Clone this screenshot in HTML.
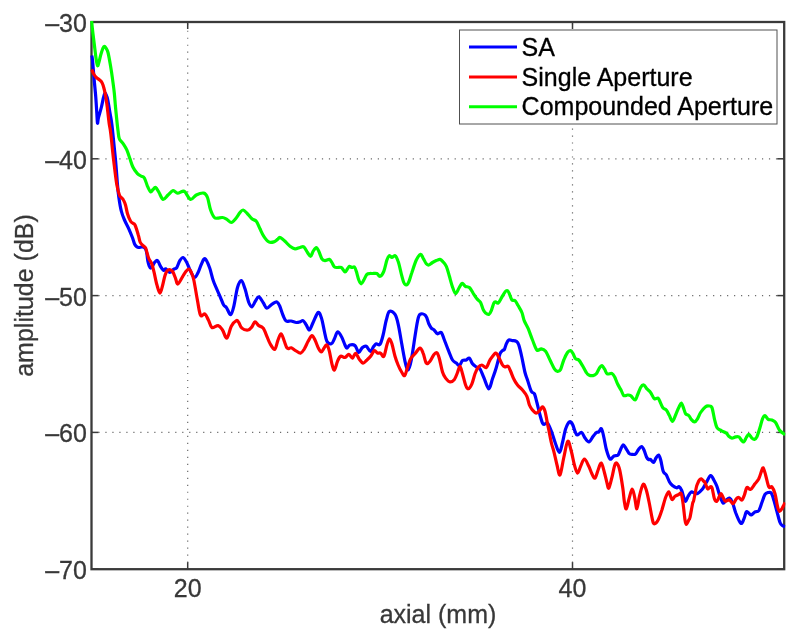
<!DOCTYPE html>
<html><head><meta charset="utf-8"><title>amplitude vs axial</title>
<style>
html,body{margin:0;padding:0;background:#fff;}
svg{display:block;}
text{font-family:"Liberation Sans",Arial,Helvetica,sans-serif;}
.lb{font-size:25px;fill:#383838;stroke:#383838;stroke-width:0.3px;}
.lg{font-size:25px;fill:#000;stroke:#000;stroke-width:0.3px;}
.g{stroke:#6b6b6b;stroke-width:1.2;stroke-dasharray:1.2 5.785;}
.t{stroke:#3a3a3a;stroke-width:1.5;}
</style></head><body>
<svg width="800" height="642" viewBox="0 0 800 642">
<defs><clipPath id="c"><rect x="90.2" y="20.7" width="695.1" height="549.8"/></clipPath></defs>
<rect x="0" y="0" width="800" height="642" fill="#fff"/>
<line x1="91.4" y1="158.8" x2="784.2" y2="158.8" class="g"/>
<line x1="91.4" y1="295.6" x2="784.2" y2="295.6" class="g"/>
<line x1="91.4" y1="432.4" x2="784.2" y2="432.4" class="g"/>
<line x1="187.7" y1="569.7" x2="187.7" y2="22.0" class="g"/>
<line x1="572.5" y1="569.7" x2="572.5" y2="22.0" class="g"/>
<rect x="91.5" y="22.0" width="692.7" height="547.2" fill="none" stroke="#3a3a3a" stroke-width="2.3"/>
<line x1="91.5" y1="22.0" x2="98.5" y2="22.0" class="t"/>
<line x1="784.2" y1="22.0" x2="777.2" y2="22.0" class="t"/>
<text x="86.9" y="32.0" text-anchor="end" class="lb">–30</text>
<line x1="91.5" y1="158.8" x2="98.5" y2="158.8" class="t"/>
<line x1="784.2" y1="158.8" x2="777.2" y2="158.8" class="t"/>
<text x="86.9" y="168.8" text-anchor="end" class="lb">–40</text>
<line x1="91.5" y1="295.6" x2="98.5" y2="295.6" class="t"/>
<line x1="784.2" y1="295.6" x2="777.2" y2="295.6" class="t"/>
<text x="86.9" y="305.6" text-anchor="end" class="lb">–50</text>
<line x1="91.5" y1="432.4" x2="98.5" y2="432.4" class="t"/>
<line x1="784.2" y1="432.4" x2="777.2" y2="432.4" class="t"/>
<text x="86.9" y="442.4" text-anchor="end" class="lb">–60</text>
<line x1="91.5" y1="569.2" x2="98.5" y2="569.2" class="t"/>
<line x1="784.2" y1="569.2" x2="777.2" y2="569.2" class="t"/>
<text x="86.9" y="579.2" text-anchor="end" class="lb">–70</text>
<line x1="187.7" y1="569.2" x2="187.7" y2="562.2" class="t"/>
<line x1="187.7" y1="22.0" x2="187.7" y2="29.0" class="t"/>
<text x="187.7" y="597" text-anchor="middle" class="lb">20</text>
<line x1="572.5" y1="569.2" x2="572.5" y2="562.2" class="t"/>
<line x1="572.5" y1="22.0" x2="572.5" y2="29.0" class="t"/>
<text x="572.5" y="597" text-anchor="middle" class="lb">40</text>
<text x="438" y="622.8" text-anchor="middle" class="lb">axial (mm)</text>
<text transform="translate(32.7 295.5) rotate(-90)" text-anchor="middle" class="lb">amplitude (dB)</text>
<g clip-path="url(#c)" fill="none" stroke-width="3.2" stroke-linejoin="round" stroke-linecap="butt">
<path d="M91.7 55.5C91.8 56.2 92.1 56.2 92.5 60.0C92.9 63.8 93.5 72.2 94.0 78.0C94.5 83.8 95.1 89.2 95.6 95.0C96.1 100.8 96.5 108.3 96.8 113.0C97.1 117.7 97.2 122.3 97.5 123.1C97.8 123.9 97.8 120.6 98.4 118.0C99.0 115.4 100.5 110.9 101.3 107.5C102.1 104.1 102.9 99.9 103.5 97.5C104.1 95.1 104.5 93.3 105.0 93.1C105.5 92.8 106.1 94.8 106.6 96.0C107.1 97.2 107.2 97.2 107.8 100.0C108.4 102.8 109.4 109.5 110.0 113.0C110.6 116.5 111.0 118.2 111.4 121.0C111.8 123.8 112.2 126.8 112.5 130.0C112.8 133.2 113.0 134.8 113.5 140.0C114.0 145.2 114.9 153.5 115.6 161.0C116.3 168.5 117.0 179.0 117.5 185.0C118.0 191.0 118.2 192.7 118.8 197.0C119.4 201.3 120.3 207.2 121.3 211.0C122.2 214.8 123.2 217.0 124.5 220.0C125.8 223.0 127.5 225.9 128.8 228.8C130.1 231.7 131.3 234.7 132.3 237.3C133.3 239.9 134.0 242.8 134.7 244.3C135.4 245.8 135.8 246.0 136.5 246.5C137.2 247.0 137.7 247.4 138.6 247.5C139.5 247.6 140.8 247.0 141.7 247.0C142.6 247.0 143.3 246.9 144.0 247.3C144.7 247.7 145.3 248.3 145.8 249.5C146.3 250.7 146.7 252.5 147.0 254.5C147.3 256.5 147.5 259.6 147.9 261.5C148.3 263.4 148.8 264.9 149.2 266.0C149.6 267.1 150.0 268.1 150.6 268.1C151.2 268.1 151.8 266.9 152.5 266.0C153.2 265.1 153.8 263.4 154.5 262.5C155.2 261.6 156.2 260.3 156.9 260.3C157.6 260.3 158.1 261.5 158.7 262.5C159.3 263.5 159.6 264.9 160.4 266.2C161.2 267.5 162.6 269.9 163.5 270.4C164.4 270.8 164.8 268.6 165.8 268.9C166.8 269.2 168.4 272.3 169.7 272.4C171.0 272.5 172.4 270.1 173.6 269.3C174.8 268.5 175.7 269.1 176.7 267.7C177.7 266.3 178.7 262.4 179.8 260.7C180.9 259.0 182.0 257.3 183.1 257.5C184.2 257.7 185.3 259.9 186.5 262.0C187.7 264.1 188.7 267.4 190.0 270.0C191.3 272.6 193.1 277.1 194.4 277.5C195.8 277.9 196.9 274.8 198.1 272.5C199.3 270.2 200.3 266.3 201.5 264.0C202.7 261.7 203.6 258.1 205.0 258.8C206.4 259.5 208.3 264.2 209.7 268.0C211.1 271.8 211.8 276.6 213.5 281.3C215.2 286.0 218.3 292.4 220.0 296.3C221.7 300.2 222.4 302.8 223.5 304.7C224.6 306.6 225.4 306.1 226.6 307.8C227.8 309.5 229.4 314.9 230.6 314.7C231.8 314.4 232.7 310.8 233.8 306.3C235.0 301.8 236.2 291.8 237.5 287.5C238.8 283.2 240.1 280.4 241.3 280.6C242.6 280.8 243.8 285.2 245.0 288.8C246.2 292.4 247.7 299.5 248.8 302.5C250.0 305.5 250.8 307.1 251.9 306.9C253.0 306.6 254.3 302.7 255.5 301.0C256.6 299.3 257.5 296.6 258.8 296.9C260.1 297.1 261.8 300.6 263.1 302.5C264.5 304.4 265.3 307.9 266.9 308.1C268.5 308.3 270.8 304.8 272.5 303.8C274.2 302.8 275.7 301.5 276.9 301.9C278.1 302.3 278.7 303.7 279.7 306.0C280.7 308.3 282.0 313.0 283.1 315.5C284.2 318.0 284.9 320.1 286.2 321.0C287.5 321.9 289.3 320.8 291.0 321.0C292.7 321.2 294.8 322.4 296.3 322.5C297.8 322.6 298.9 322.2 300.0 321.9C301.1 321.6 302.1 320.1 303.1 320.6C304.2 321.1 305.2 323.4 306.3 325.0C307.4 326.6 308.3 330.4 309.4 330.0C310.5 329.6 311.7 325.4 313.1 322.5C314.6 319.6 316.7 313.3 318.1 312.5C319.5 311.7 320.2 314.4 321.3 317.5C322.4 320.6 323.5 327.3 324.4 331.3C325.3 335.3 325.8 339.2 326.9 341.3C328.0 343.4 330.1 344.2 331.3 343.8C332.6 343.4 333.4 340.8 334.4 338.8C335.4 336.8 336.4 332.3 337.5 331.9C338.6 331.5 340.1 334.1 341.3 336.3C342.6 338.5 344.1 343.0 345.0 345.0C345.9 347.0 346.1 348.1 346.9 348.1C347.7 348.1 348.6 345.4 350.0 345.0C351.4 344.6 353.8 344.7 355.0 345.6C356.2 346.5 356.8 349.5 357.5 350.6C358.2 351.7 358.3 352.7 359.1 352.2C359.9 351.7 361.3 348.5 362.5 347.5C363.7 346.5 365.0 345.7 366.3 346.3C367.6 346.9 369.1 351.3 370.4 351.3C371.6 351.3 372.8 347.6 373.8 346.3C374.8 345.1 375.3 344.1 376.3 343.8C377.3 343.5 378.9 345.9 380.0 344.4C381.1 342.9 382.1 339.1 383.1 335.0C384.2 330.9 385.2 323.9 386.3 320.0C387.4 316.1 387.9 312.2 389.4 311.3C390.8 310.4 393.6 312.3 395.0 314.4C396.4 316.5 397.1 319.3 398.1 323.8C399.2 328.3 400.2 335.1 401.3 341.3C402.4 347.6 403.9 356.5 405.0 361.3C406.1 366.1 407.1 370.2 408.1 370.0C409.2 369.8 410.2 365.6 411.3 360.0C412.4 354.4 414.0 342.8 415.0 336.3C416.0 329.9 416.7 325.0 417.5 321.3C418.3 317.6 418.6 315.3 420.0 314.4C421.4 313.4 424.1 314.0 425.6 315.6C427.1 317.2 427.9 321.7 428.8 323.8C429.8 325.9 430.4 327.1 431.3 328.1C432.2 329.1 433.1 329.1 434.1 330.0C435.1 330.9 436.3 333.4 437.5 333.8C438.7 334.2 440.2 331.5 441.3 332.5C442.4 333.5 443.1 336.9 444.4 340.0C445.6 343.1 447.4 348.0 448.8 351.3C450.2 354.6 451.2 358.0 452.5 360.0C453.8 362.0 455.2 362.2 456.3 363.1C457.4 364.0 458.4 366.0 459.4 365.6C460.4 365.2 461.4 361.5 462.5 360.6C463.6 359.7 465.2 360.4 466.3 360.0C467.4 359.6 468.4 357.5 469.4 358.1C470.4 358.7 471.4 362.3 472.5 363.8C473.6 365.3 475.1 366.1 476.3 366.9C477.6 367.7 478.8 367.0 480.0 368.8C481.2 370.6 482.3 374.2 483.8 377.5C485.3 380.8 487.4 388.6 488.8 388.8C490.2 389.0 491.2 382.4 492.5 378.8C493.8 375.2 495.1 371.7 496.3 367.5C497.6 363.3 499.0 356.6 500.0 353.8C501.0 351.0 501.8 351.3 502.5 350.6C503.2 349.9 503.8 350.5 504.4 349.4C505.0 348.3 505.6 345.4 506.3 343.8C507.0 342.2 507.8 340.5 508.8 340.0C509.8 339.5 511.2 340.4 512.5 340.6C513.8 340.8 515.2 340.6 516.3 341.3C517.3 342.0 517.9 342.3 518.8 345.0C519.7 347.7 520.9 352.9 521.9 357.5C522.9 362.1 524.1 368.8 525.0 372.5C525.9 376.2 526.5 376.9 527.5 380.0C528.5 383.1 530.1 389.0 531.3 391.3C532.4 393.6 533.5 391.9 534.4 393.8C535.3 395.7 536.0 399.0 536.9 402.5C537.8 406.0 539.1 411.6 540.0 415.0C540.9 418.4 541.8 421.5 542.5 423.1C543.2 424.7 543.6 424.4 544.4 424.4C545.2 424.4 546.4 422.0 547.5 423.1C548.6 424.2 550.0 427.7 551.3 431.0C552.6 434.3 553.9 439.4 555.3 443.0C556.6 446.6 558.2 452.6 559.4 452.5C560.6 452.4 561.5 446.4 562.5 442.5C563.5 438.6 564.5 432.4 565.6 429.0C566.8 425.6 568.2 422.7 569.4 421.9C570.5 421.1 571.6 422.8 572.5 424.4C573.4 426.0 574.2 429.5 575.0 431.3C575.8 433.1 576.1 434.8 577.2 435.0C578.3 435.2 580.3 432.0 581.6 432.5C582.9 433.0 583.8 436.4 585.0 438.0C586.2 439.6 587.7 442.1 589.0 441.9C590.3 441.6 591.8 438.1 593.0 436.5C594.2 434.9 595.5 433.3 596.5 432.5C597.5 431.7 598.0 432.5 598.8 431.9C599.6 431.3 600.6 427.8 601.5 428.8C602.4 429.8 603.2 434.5 604.0 438.0C604.8 441.5 605.5 446.5 606.5 450.0C607.5 453.5 608.8 458.0 610.0 459.0C611.2 460.0 612.7 456.6 614.0 456.0C615.3 455.4 616.8 456.1 617.8 455.3C618.8 454.5 619.1 452.7 620.0 451.0C620.9 449.3 622.0 445.4 623.0 445.0C624.0 444.6 625.0 447.1 626.0 448.5C627.0 449.9 628.0 452.3 629.0 453.3C630.0 454.3 631.2 454.3 632.3 454.4C633.4 454.5 634.5 454.8 635.5 454.0C636.5 453.2 637.5 450.8 638.5 449.5C639.5 448.2 640.6 446.4 641.5 446.5C642.4 446.6 643.2 448.2 644.0 450.0C644.8 451.8 645.8 455.4 646.5 457.0C647.2 458.6 647.8 459.1 648.5 459.5C649.2 459.9 649.6 459.0 650.5 459.5C651.4 460.0 652.7 462.8 653.6 462.5C654.5 462.2 655.2 459.2 656.0 458.0C656.8 456.8 657.8 454.7 658.6 455.0C659.4 455.3 659.9 457.2 660.7 460.0C661.5 462.8 662.3 469.0 663.3 471.5C664.2 474.0 665.4 473.2 666.4 475.0C667.4 476.8 668.5 480.2 669.5 482.0C670.5 483.8 671.3 484.5 672.5 485.5C673.7 486.5 675.4 487.6 676.5 487.8C677.6 488.0 678.3 486.2 679.2 486.7C680.1 487.1 680.9 488.7 681.7 490.5C682.5 492.3 683.1 495.7 683.8 497.5C684.4 499.3 684.9 501.5 685.6 501.3C686.3 501.1 687.2 497.9 688.1 496.3C689.0 494.7 690.2 492.4 691.3 491.9C692.3 491.4 693.4 492.8 694.4 493.1C695.4 493.4 696.1 494.2 697.5 493.5C698.9 492.8 701.0 490.8 702.5 489.0C704.0 487.2 704.9 484.7 706.3 482.5C707.6 480.3 709.4 476.0 710.6 475.6C711.9 475.2 712.8 478.2 713.8 480.0C714.8 481.8 715.9 483.6 716.9 486.3C717.9 489.0 719.0 493.5 720.0 496.3C721.0 499.1 722.1 502.5 723.1 503.1C724.1 503.7 725.2 500.8 726.3 500.0C727.3 499.2 728.4 497.7 729.4 498.1C730.4 498.5 731.5 500.1 732.5 502.5C733.5 504.9 734.5 509.4 735.6 512.5C736.8 515.6 738.4 519.5 739.4 521.3C740.4 523.1 741.1 523.7 741.9 523.1C742.7 522.5 743.7 519.4 744.4 517.5C745.1 515.6 745.6 512.6 746.3 511.9C747.0 511.2 748.0 512.6 748.8 513.1C749.6 513.6 750.3 515.2 751.3 515.0C752.3 514.8 753.8 512.6 755.0 511.9C756.2 511.2 757.6 512.2 758.8 510.6C759.9 509.0 760.9 505.2 761.9 502.5C762.9 499.8 764.0 496.1 765.0 494.4C766.0 492.7 767.1 492.7 768.1 492.5C769.1 492.3 770.3 491.9 771.3 493.1C772.2 494.4 772.9 497.0 773.8 500.0C774.7 503.0 775.9 507.6 776.9 511.3C777.9 515.0 779.1 520.1 780.0 522.5C780.9 524.9 781.9 525.0 782.5 525.6C783.1 526.2 783.3 526.1 783.8 526.3C784.2 526.5 785.0 526.5 785.2 526.6" stroke="#0000ff"/>
<path d="M91.7 69.5C92.1 70.3 93.2 73.2 94.0 74.5C94.8 75.8 95.5 76.7 96.3 77.5C97.1 78.3 98.2 78.8 99.0 79.5C99.8 80.2 100.6 80.7 101.3 81.6C102.0 82.5 102.5 83.6 103.0 85.0C103.5 86.4 103.9 88.0 104.4 90.0C104.9 92.0 105.3 94.1 105.8 97.0C106.3 99.9 106.8 103.2 107.3 107.5C107.8 111.8 108.6 119.2 109.1 123.0C109.6 126.8 109.9 127.2 110.3 130.0C110.7 132.8 111.0 135.2 111.5 140.0C112.0 144.8 112.6 151.7 113.5 159.0C114.4 166.3 115.7 178.0 116.7 184.0C117.7 190.0 118.6 192.8 119.4 195.0C120.2 197.2 120.7 196.7 121.3 197.5C121.9 198.3 122.6 198.4 123.3 199.7C124.0 200.9 124.8 202.7 125.5 205.0C126.2 207.3 126.7 211.1 127.5 213.8C128.3 216.5 129.7 219.7 130.6 221.3C131.5 222.9 132.3 222.7 133.0 223.3C133.7 223.9 134.1 223.1 135.0 225.0C135.9 226.9 137.5 232.2 138.3 235.0C139.2 237.8 139.4 240.3 140.1 242.0C140.8 243.7 141.6 244.1 142.5 245.1C143.4 246.1 144.8 246.3 145.6 247.9C146.4 249.5 146.9 252.6 147.5 254.5C148.1 256.4 148.4 257.6 149.1 259.1C149.8 260.7 151.0 261.6 151.8 263.8C152.6 266.0 153.2 268.9 154.1 272.4C154.9 275.9 155.9 281.4 156.9 284.8C157.9 288.2 159.0 293.1 160.0 293.1C161.0 293.1 161.9 287.9 162.7 285.0C163.5 282.1 164.2 277.9 165.0 275.5C165.8 273.1 166.6 271.6 167.4 270.6C168.2 269.6 169.2 269.5 170.1 269.7C171.0 269.9 171.9 270.1 172.8 271.6C173.7 273.1 174.8 276.5 175.6 278.6C176.4 280.7 176.7 284.3 177.8 284.0C179.0 283.7 181.2 278.9 182.5 276.9C183.8 274.9 184.4 273.3 185.5 272.0C186.6 270.7 187.8 269.1 188.8 269.2C189.8 269.3 190.5 270.7 191.3 272.5C192.1 274.3 192.8 275.3 193.8 280.0C194.8 284.7 196.4 294.7 197.5 300.6C198.6 306.5 199.3 313.1 200.6 315.3C201.8 317.5 203.7 313.2 205.0 314.0C206.3 314.8 207.2 317.8 208.4 320.0C209.6 322.2 210.3 326.6 211.9 327.5C213.5 328.4 216.3 325.2 218.1 325.6C219.9 326.0 221.0 327.9 222.5 330.0C224.0 332.1 225.4 338.7 226.9 338.1C228.4 337.5 229.7 329.2 231.3 326.3C232.9 323.4 235.1 321.2 236.3 320.6C237.6 320.0 237.9 321.2 238.8 322.5C239.7 323.8 240.4 326.9 241.9 328.1C243.4 329.4 246.4 330.2 248.1 330.0C249.8 329.8 250.8 328.2 251.9 326.9C253.1 325.5 253.8 322.1 255.0 321.9C256.1 321.7 257.4 324.6 258.8 325.6C260.2 326.6 261.8 326.3 263.1 328.1C264.5 329.9 265.8 333.7 266.9 336.3C268.0 338.9 268.7 341.3 270.0 343.5C271.3 345.7 273.4 349.9 274.7 349.4C276.0 348.9 276.8 343.2 277.8 340.6C278.9 338.0 279.9 333.8 281.0 333.8C282.1 333.8 283.1 338.2 284.1 340.6C285.1 343.0 286.0 347.0 287.2 348.2C288.4 349.4 289.9 347.4 291.3 347.8C292.7 348.2 294.1 349.7 295.6 350.6C297.2 351.5 299.1 353.4 300.6 353.1C302.1 352.8 303.1 350.8 304.4 348.8C305.6 346.8 306.9 343.5 308.1 341.3C309.4 339.1 310.8 335.8 311.9 335.6C313.0 335.4 314.0 338.0 315.0 340.0C316.0 342.0 317.1 345.5 318.1 347.5C319.2 349.5 320.2 351.9 321.3 351.9C322.4 351.9 323.5 348.6 324.4 347.5C325.3 346.4 326.1 344.4 326.9 345.0C327.7 345.6 328.6 348.2 329.4 351.3C330.2 354.4 331.1 360.7 331.9 363.8C332.7 366.9 333.5 370.4 334.4 370.0C335.3 369.6 336.5 363.6 337.5 361.3C338.5 359.0 339.4 356.9 340.6 356.3C341.9 355.7 343.6 357.8 345.0 357.5C346.4 357.2 347.6 354.3 348.8 354.4C350.1 354.5 351.4 358.3 352.5 358.1C353.6 357.9 354.5 353.1 355.6 353.3C356.8 353.5 358.1 357.8 359.4 359.4C360.6 361.0 361.9 363.0 363.1 363.1C364.4 363.2 365.6 361.1 366.9 360.0C368.1 358.9 369.4 357.9 370.6 356.3C371.9 354.7 373.2 351.1 374.4 350.6C375.5 350.1 376.5 352.7 377.5 353.1C378.5 353.5 379.6 352.6 380.6 353.1C381.7 353.6 382.8 357.7 383.8 356.3C384.9 354.9 386.0 347.9 386.9 345.0C387.8 342.1 388.6 339.0 389.4 338.8C390.2 338.6 391.0 340.9 391.9 343.8C392.8 346.7 394.0 352.8 395.0 356.3C396.0 359.8 397.0 362.3 398.1 365.0C399.2 367.7 400.8 370.8 401.9 372.5C403.0 374.2 403.8 376.3 404.7 375.5C405.6 374.7 406.5 370.3 407.5 367.5C408.5 364.7 409.4 361.1 410.6 358.8C411.9 356.5 413.4 355.6 415.0 353.8C416.6 352.0 418.6 348.2 420.0 348.1C421.4 348.0 422.1 350.6 423.1 353.1C424.2 355.6 425.2 361.7 426.3 363.1C427.4 364.5 428.8 362.7 430.0 361.3C431.2 359.9 432.7 356.1 433.8 354.7C434.9 353.3 436.0 352.1 436.9 352.8C437.8 353.5 438.5 355.6 439.4 358.8C440.3 362.0 441.5 368.8 442.5 372.0C443.5 375.2 444.4 376.5 445.6 378.1C446.9 379.8 448.5 381.7 450.0 381.9C451.5 382.1 453.1 381.0 454.4 379.4C455.6 377.8 456.6 374.7 457.5 372.5C458.4 370.3 459.2 366.1 460.0 366.3C460.8 366.5 461.6 370.7 462.5 373.8C463.4 376.9 464.7 382.5 465.6 385.0C466.5 387.5 467.1 389.0 468.1 388.8C469.2 388.6 470.8 386.3 471.9 383.8C473.0 381.3 474.0 376.5 475.0 373.8C476.0 371.1 477.0 369.0 478.1 367.5C479.2 366.0 480.5 365.0 481.9 365.0C483.3 365.0 484.9 368.3 486.3 367.5C487.7 366.7 488.4 362.4 490.0 360.0C491.6 357.6 494.1 353.5 495.6 353.1C497.1 352.7 497.7 355.5 498.8 357.5C499.9 359.5 501.5 363.4 502.5 365.0C503.5 366.6 504.1 366.7 505.0 366.9C505.9 367.1 507.2 365.6 508.1 366.3C509.0 367.0 509.7 369.2 510.6 371.3C511.6 373.4 512.6 376.7 513.8 379.0C514.9 381.3 516.0 383.2 517.5 385.0C519.0 386.8 520.9 388.1 522.5 390.0C524.1 391.9 525.8 393.8 526.9 396.3C528.0 398.8 528.5 402.7 529.4 405.0C530.3 407.3 531.4 408.6 532.5 410.0C533.6 411.4 535.0 413.1 536.3 413.1C537.5 413.1 539.0 411.0 540.0 410.0C541.0 409.0 541.7 406.7 542.5 406.9C543.3 407.1 544.2 408.5 545.0 411.3C545.8 414.1 546.9 420.7 547.5 423.8C548.1 426.9 548.2 426.9 548.8 430.0C549.4 433.1 550.5 438.9 551.3 442.5C552.1 446.1 552.8 447.6 553.8 451.3C554.8 455.1 556.0 461.1 557.0 465.0C558.0 468.9 558.9 476.2 560.0 475.0C561.1 473.8 562.5 463.1 563.8 457.5C565.1 451.9 566.5 442.3 567.8 441.3C569.0 440.3 570.2 447.4 571.3 451.3C572.4 455.2 573.4 461.4 574.4 465.0C575.4 468.6 576.5 472.9 577.5 473.1C578.5 473.3 579.5 468.7 580.6 466.3C581.8 463.9 583.0 459.0 584.4 459.0C585.8 459.0 587.5 463.8 588.8 466.3C590.0 468.8 590.9 471.8 591.9 473.8C592.9 475.8 594.0 478.7 595.0 478.1C596.0 477.5 597.1 472.5 598.1 470.0C599.1 467.5 600.2 462.7 601.3 463.1C602.3 463.5 603.5 469.3 604.4 472.5C605.3 475.7 606.2 479.9 606.9 482.5C607.6 485.1 608.0 488.9 608.8 488.1C609.6 487.3 610.9 481.2 611.9 477.5C612.9 473.8 613.7 468.4 614.5 466.0C615.3 463.6 615.7 462.4 616.6 463.1C617.5 463.8 618.7 465.9 619.7 470.0C620.7 474.1 622.0 482.7 622.8 488.0C623.6 493.3 623.8 498.5 624.4 502.0C625.0 505.5 625.5 509.3 626.3 508.8C627.1 508.3 628.0 502.3 629.0 499.0C630.0 495.7 631.2 489.2 632.2 489.0C633.2 488.8 633.9 494.2 634.7 497.5C635.5 500.8 636.1 509.0 636.9 508.8C637.7 508.6 638.4 500.4 639.4 496.3C640.4 492.2 642.0 485.4 643.1 484.4C644.2 483.3 645.2 486.8 646.3 490.0C647.3 493.2 648.4 498.8 649.4 503.8C650.4 508.8 651.7 516.7 652.5 520.0C653.3 523.3 653.5 523.8 654.4 523.8C655.3 523.8 656.9 522.3 658.1 520.0C659.4 517.7 660.6 513.8 661.9 510.0C663.1 506.2 664.5 500.5 665.6 497.5C666.8 494.5 667.8 491.6 668.8 491.9C669.8 492.2 670.9 498.7 671.9 499.4C672.9 500.1 673.9 497.1 675.0 496.3C676.1 495.5 677.8 494.8 678.8 494.4C679.8 494.0 680.6 492.2 681.3 493.8C682.0 495.4 682.5 499.4 683.1 503.8C683.7 508.2 684.5 516.6 685.0 520.0C685.5 523.4 685.7 524.4 686.3 524.4C686.9 524.4 688.2 521.1 688.8 520.0C689.4 518.9 689.4 520.2 690.0 517.5C690.6 514.8 691.9 506.9 692.5 504.0C693.1 501.1 693.2 502.8 693.8 500.0C694.4 497.2 695.7 490.2 696.3 487.5C696.9 484.8 697.0 485.1 697.5 483.8C698.0 482.6 698.8 480.8 699.4 480.0C700.0 479.2 700.5 478.6 701.2 478.8C701.9 479.0 703.2 480.7 703.8 481.3C704.4 481.9 704.4 481.2 705.0 482.5C705.6 483.8 706.8 488.0 707.5 488.8C708.2 489.6 708.7 487.7 709.4 487.5C710.1 487.3 711.1 485.6 711.9 487.5C712.7 489.4 713.6 496.5 714.4 498.8C715.2 501.1 716.1 501.7 716.9 501.3C717.7 500.9 718.7 497.6 719.4 496.3C720.1 495.1 720.6 493.4 721.3 493.8C722.0 494.2 723.1 497.6 723.8 498.8C724.5 500.1 724.7 501.1 725.6 501.3C726.5 501.5 728.1 499.6 729.4 500.0C730.6 500.4 732.0 504.0 733.1 503.8C734.2 503.6 735.3 499.9 736.3 498.8C737.2 497.8 737.9 497.3 738.8 497.5C739.7 497.7 741.0 500.4 741.9 500.0C742.8 499.6 743.6 497.1 744.4 495.0C745.2 492.9 745.9 488.4 746.9 487.5C747.9 486.6 749.2 490.0 750.6 489.4C752.0 488.8 753.6 485.6 755.0 483.8C756.4 482.0 757.6 481.1 758.8 478.8C759.9 476.5 761.1 471.8 761.9 470.0C762.7 468.2 762.8 467.3 763.4 468.1C764.0 468.9 764.7 471.9 765.6 475.0C766.5 478.1 767.8 484.9 768.8 486.9C769.8 488.9 770.9 485.8 771.9 486.9C772.9 488.0 774.1 490.6 775.0 493.8C775.9 497.0 776.8 503.4 777.5 506.3C778.2 509.2 778.7 510.9 779.4 511.3C780.1 511.7 781.2 509.9 781.9 508.8C782.6 507.8 783.2 506.1 783.8 505.0C784.3 503.9 785.0 502.9 785.2 502.5" stroke="#ff0000"/>
<path d="M91.6 21.0C91.8 23.2 92.5 29.8 93.0 34.0C93.5 38.2 94.0 42.0 94.5 46.0C95.0 50.0 95.5 54.7 96.0 58.0C96.5 61.3 97.0 64.9 97.5 65.6C98.0 66.3 98.4 63.9 99.0 62.0C99.6 60.1 100.3 56.3 101.0 54.0C101.7 51.7 102.5 49.3 103.0 48.0C103.5 46.7 103.8 46.3 104.3 46.3C104.8 46.3 105.4 47.0 106.0 48.0C106.6 49.0 107.3 49.7 108.0 52.5C108.7 55.3 109.7 60.9 110.4 65.0C111.1 69.2 111.7 72.7 112.3 77.4C112.9 82.1 113.8 88.1 114.3 93.0C114.8 97.9 115.1 102.8 115.5 107.0C115.9 111.2 116.2 114.0 116.6 118.0C117.0 122.0 117.6 127.7 118.1 131.2C118.5 134.6 118.5 136.6 119.3 138.7C120.1 140.8 121.8 141.7 123.1 143.6C124.3 145.5 125.7 147.4 126.8 149.9C127.9 152.4 128.9 155.7 129.9 158.6C130.9 161.5 131.8 164.8 133.0 167.3C134.2 169.8 136.1 172.2 137.4 173.6C138.7 175.0 139.8 175.2 141.0 176.0C142.2 176.8 143.3 176.4 144.4 178.1C145.5 179.8 146.5 184.0 147.5 186.3C148.5 188.6 149.7 191.4 150.6 191.9C151.5 192.4 152.2 190.2 153.0 189.5C153.8 188.8 154.6 187.0 155.6 187.5C156.6 188.0 157.8 190.5 159.0 192.5C160.2 194.5 161.6 199.0 163.1 199.4C164.6 199.8 166.3 196.5 168.0 195.0C169.7 193.5 171.5 190.9 173.1 190.6C174.7 190.3 175.9 193.0 177.5 193.1C179.1 193.2 181.2 191.5 182.5 191.3C183.8 191.1 183.7 190.6 185.0 191.9C186.3 193.2 188.7 198.9 190.6 199.4C192.5 199.9 194.1 196.1 196.3 195.0C198.5 193.9 201.9 192.7 203.8 193.1C205.7 193.5 206.4 194.7 207.5 197.5C208.6 200.3 209.4 206.7 210.6 210.0C211.8 213.3 213.2 216.2 214.4 217.5C215.6 218.8 216.2 218.1 217.5 218.1C218.8 218.1 220.9 217.3 222.5 217.5C224.1 217.7 225.4 218.6 226.9 219.4C228.4 220.2 229.9 222.6 231.3 222.5C232.8 222.4 234.2 220.5 235.6 218.8C237.0 217.1 238.8 214.0 240.0 212.5C241.2 211.0 241.9 209.9 243.1 210.0C244.2 210.1 245.4 211.6 246.9 213.1C248.4 214.6 250.3 217.4 251.9 218.8C253.5 220.2 255.0 219.6 256.3 221.3C257.7 223.0 258.8 226.3 260.0 228.8C261.2 231.3 262.3 234.1 263.8 236.3C265.3 238.5 267.1 241.0 268.8 241.9C270.5 242.8 272.4 242.3 273.8 241.9C275.2 241.5 276.5 240.1 277.5 239.4C278.5 238.7 278.8 237.2 280.0 237.5C281.2 237.8 283.3 239.8 285.0 241.3C286.7 242.8 288.3 245.1 290.0 246.3C291.7 247.6 293.3 248.6 295.0 248.8C296.7 249.0 298.5 247.8 300.0 247.5C301.5 247.2 302.6 246.1 303.8 246.9C305.1 247.7 306.4 250.9 307.5 252.5C308.6 254.1 309.7 256.5 310.6 256.3C311.5 256.1 312.2 252.8 313.1 251.3C314.1 249.8 315.4 247.5 316.3 247.5C317.2 247.5 317.9 249.4 318.8 251.3C319.7 253.2 320.9 257.2 321.9 258.8C322.9 260.4 323.8 260.5 325.0 260.6C326.2 260.7 328.2 259.1 329.4 259.4C330.5 259.7 331.1 261.2 331.9 262.5C332.7 263.8 333.5 266.1 334.4 266.9C335.3 267.7 336.4 267.4 337.5 267.5C338.6 267.6 340.1 266.8 341.3 267.5C342.6 268.2 344.0 271.7 345.0 271.9C346.0 272.1 346.8 269.7 347.5 268.8C348.2 267.9 348.7 266.5 349.4 266.3C350.1 266.1 351.1 267.4 351.9 267.5C352.7 267.6 353.7 266.3 354.4 266.9C355.1 267.5 355.6 269.1 356.3 271.3C357.0 273.5 358.0 277.9 358.8 280.0C359.6 282.1 360.5 283.8 361.3 283.8C362.1 283.8 362.9 281.6 363.8 280.0C364.7 278.4 365.9 275.5 366.9 274.4C367.9 273.3 369.1 273.6 370.0 273.5C370.9 273.4 371.4 273.5 372.5 273.5C373.6 273.5 375.6 273.0 376.9 273.5C378.1 274.0 378.9 276.7 380.0 276.3C381.1 275.9 382.7 274.0 383.8 271.3C384.9 268.6 386.0 262.6 386.9 260.0C387.8 257.4 388.6 256.0 389.4 255.6C390.2 255.2 391.0 257.5 391.9 257.5C392.8 257.5 394.0 255.0 395.0 255.6C396.0 256.2 397.1 258.3 398.1 261.3C399.2 264.3 400.4 270.3 401.3 273.8C402.2 277.3 403.0 280.6 403.8 282.5C404.6 284.4 405.5 285.1 406.3 285.0C407.1 284.9 407.9 284.0 408.8 281.9C409.7 279.8 410.6 276.1 411.9 272.5C413.1 268.9 414.9 263.0 416.3 260.0C417.8 257.0 419.5 254.7 420.6 254.4C421.7 254.1 422.2 256.5 423.1 258.1C424.1 259.7 425.4 262.7 426.3 263.8C427.2 264.9 427.8 265.2 428.8 265.0C429.8 264.8 431.2 263.2 432.5 262.5C433.8 261.8 435.1 261.1 436.3 260.6C437.6 260.1 438.9 259.2 440.0 259.4C441.1 259.6 442.1 260.8 443.1 261.9C444.2 263.0 445.2 263.9 446.3 266.3C447.4 268.7 448.4 272.9 449.4 276.3C450.4 279.8 451.5 284.1 452.5 287.0C453.5 289.9 454.5 293.3 455.6 293.5C456.7 293.7 457.9 289.7 459.0 288.0C460.1 286.3 461.1 283.7 462.2 283.4C463.2 283.1 464.1 285.6 465.3 286.3C466.5 287.0 468.1 286.4 469.4 287.5C470.7 288.6 471.9 291.2 473.1 293.1C474.4 295.0 475.6 297.2 476.9 298.8C478.1 300.4 479.6 300.7 480.6 302.5C481.6 304.3 482.3 307.6 483.1 309.4C483.9 311.2 484.7 312.3 485.6 313.1C486.6 313.9 487.9 314.8 488.8 314.4C489.8 314.0 490.5 312.5 491.3 310.6C492.1 308.7 493.1 304.6 493.8 303.1C494.5 301.7 494.9 301.9 495.6 301.9C496.3 301.9 497.2 303.7 498.1 303.1C499.1 302.5 500.2 300.0 501.3 298.1C502.4 296.2 504.0 293.1 505.0 291.9C506.0 290.6 506.8 290.3 507.5 290.6C508.2 290.9 508.7 292.2 509.4 293.8C510.1 295.4 511.0 298.9 511.9 300.0C512.8 301.1 514.0 299.7 515.0 300.6C516.0 301.5 517.0 303.6 518.1 305.6C519.2 307.6 520.9 310.0 521.9 312.5C522.9 315.0 523.2 318.0 524.2 320.6C525.2 323.2 526.7 325.2 528.1 328.4C529.5 331.6 531.0 336.4 532.5 340.0C534.0 343.6 535.4 348.5 536.9 350.0C538.4 351.5 539.8 348.6 541.3 348.8C542.8 349.0 544.1 349.4 545.6 351.3C547.1 353.2 548.5 357.1 550.0 360.0C551.5 362.9 553.1 366.9 554.4 368.8C555.6 370.7 556.5 371.2 557.5 371.3C558.5 371.4 559.6 371.3 560.6 369.4C561.6 367.5 562.6 362.8 563.8 360.0C564.9 357.2 566.4 354.1 567.5 352.5C568.6 350.9 569.7 350.4 570.6 350.6C571.5 350.8 572.3 352.4 573.1 353.8C573.9 355.2 574.7 357.8 575.6 358.8C576.5 359.8 577.6 358.9 578.8 360.0C579.9 361.1 581.2 363.5 582.5 365.6C583.8 367.7 585.2 370.9 586.3 372.5C587.3 374.1 587.7 374.5 588.8 375.0C589.9 375.5 591.9 375.8 593.1 375.6C594.4 375.4 595.2 375.1 596.3 373.8C597.3 372.6 598.5 369.5 599.4 368.1C600.3 366.7 601.0 365.4 601.9 365.6C602.8 365.8 603.7 367.8 604.6 369.2C605.5 370.6 606.0 373.1 607.2 373.8C608.4 374.5 610.6 373.0 611.9 373.5C613.1 374.0 613.8 375.3 614.7 377.0C615.6 378.7 616.4 381.5 617.5 383.8C618.6 386.1 620.2 388.6 621.3 390.6C622.3 392.6 622.8 394.9 623.8 395.6C624.8 396.3 626.4 395.0 627.5 395.0C628.6 395.0 629.4 394.8 630.6 395.6C631.9 396.4 633.9 400.1 635.0 400.0C636.1 399.9 636.6 397.1 637.5 395.0C638.4 392.9 639.6 389.2 640.6 387.5C641.6 385.8 642.8 384.8 643.8 385.0C644.8 385.2 645.8 387.6 646.9 388.8C648.0 390.1 649.4 390.8 650.6 392.5C651.9 394.2 653.1 397.9 654.4 398.8C655.6 399.7 657.1 397.4 658.1 398.1C659.1 398.8 659.8 401.4 660.6 403.1C661.4 404.8 662.2 407.0 663.1 408.1C664.0 409.2 665.2 408.8 666.3 410.0C667.3 411.2 668.4 413.7 669.4 415.6C670.4 417.5 671.5 421.4 672.5 421.3C673.5 421.2 674.6 417.3 675.6 415.0C676.6 412.7 677.8 409.5 678.8 407.5C679.8 405.5 680.5 402.9 681.3 403.1C682.1 403.3 683.1 407.0 683.8 408.8C684.5 410.6 684.8 412.7 685.6 413.8C686.4 414.9 687.8 414.7 688.8 415.6C689.8 416.5 690.4 418.3 691.3 419.4C692.2 420.4 693.4 422.0 694.4 421.9C695.4 421.8 696.5 420.4 697.5 418.8C698.5 417.2 699.3 414.5 700.6 412.5C701.9 410.5 703.9 408.0 705.3 406.9C706.7 405.8 707.7 405.9 708.8 406.0C709.9 406.1 711.0 405.4 711.9 407.5C712.8 409.6 713.6 415.5 714.4 418.8C715.2 422.1 715.8 425.5 716.9 427.5C718.0 429.5 719.7 429.7 721.3 430.6C722.9 431.5 725.0 432.2 726.3 433.1C727.5 434.1 727.9 435.5 728.8 436.3C729.7 437.1 730.8 438.0 731.9 438.1C733.0 438.2 734.5 437.1 735.6 436.9C736.8 436.7 737.8 436.4 738.8 436.9C739.8 437.4 740.5 439.2 741.3 440.0C742.1 440.8 743.0 442.3 743.8 441.9C744.6 441.5 745.5 438.8 746.3 437.5C747.1 436.2 747.9 434.3 748.8 434.4C749.7 434.5 751.0 437.3 751.9 438.1C752.8 438.9 753.6 439.6 754.4 439.4C755.2 439.2 756.0 438.9 756.9 436.9C757.8 434.9 759.1 430.5 760.0 427.5C760.9 424.5 761.7 420.8 762.5 418.8C763.3 416.8 764.1 415.5 765.0 415.6C765.9 415.7 767.0 418.7 768.1 419.4C769.2 420.1 770.6 419.5 771.9 420.0C773.1 420.5 774.4 420.8 775.6 422.5C776.9 424.2 778.0 428.1 779.4 430.0C780.8 431.9 782.8 433.0 783.8 433.8C784.8 434.6 785.0 434.6 785.2 434.8" stroke="#00ff00"/>
</g>
<rect x="459.5" y="30" width="317.5" height="94" fill="#fff" stroke="#505050" stroke-width="1"/>
<line x1="469" y1="47.0" x2="517" y2="47.0" stroke="#0000ff" stroke-width="3"/>
<text x="521.6" y="56.0" class="lg">SA</text>
<line x1="469" y1="77.0" x2="517" y2="77.0" stroke="#ff0000" stroke-width="3"/>
<text x="521.6" y="86.0" class="lg">Single Aperture</text>
<line x1="469" y1="106.7" x2="517" y2="106.7" stroke="#00ff00" stroke-width="3"/>
<text x="521.6" y="115.4" class="lg">Compounded Aperture</text>
</svg>
</body></html>
